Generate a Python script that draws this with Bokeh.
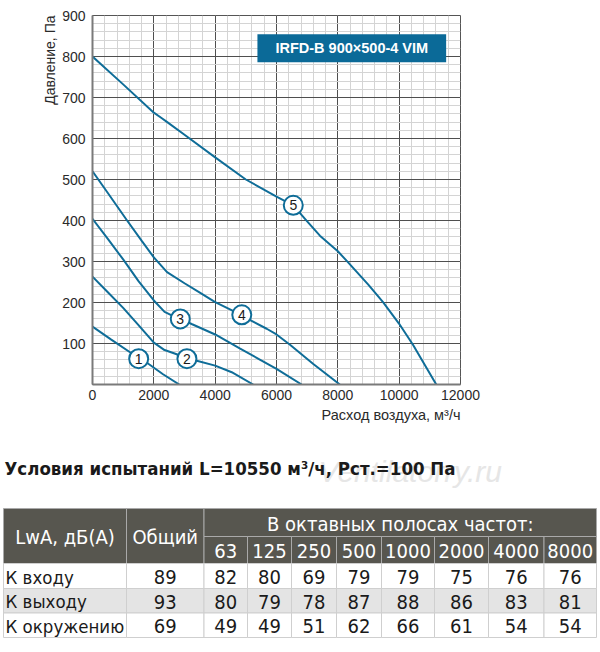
from bokeh.plotting import figure
from bokeh.models import Range1d, FixedTicker, Label, Title, ColumnDataSource
from bokeh.embed import file_html
from bokeh.resources import INLINE
from bokeh.core.properties import value

# ---------------- data ----------------
x_ticks = [0, 2000, 4000, 6000, 8000, 10000, 12000]
y_ticks = [100, 200, 300, 400, 500, 600, 700, 800, 900]

curve1_x = [0, 600, 1236, 1500, 1832, 2300, 2829]
curve1_y = [141, 110, 78, 65, 50, 25, 0]

curve2_x = [0, 500, 1000, 1500, 2000, 2350, 2700, 3078, 3400, 4000, 4540, 5240]
curve2_y = [263, 225, 187, 145, 102, 84, 75, 64, 58, 46, 30, 0]

curve3_x = [0, 500, 1000, 1500, 2000, 2350, 2600, 2862, 3250, 4000, 4800, 5500, 6000, 6820]
curve3_y = [404, 355, 305, 252, 205, 177, 168, 160, 147, 122, 88, 59, 38, 0]

curve4_x = [0, 500, 1128, 1600, 2000, 2430, 3000, 3500, 4000, 4850, 5140, 5680, 6000, 6440, 7200, 8065]
curve4_y = [520, 467, 400, 351, 310, 274, 247, 224, 201, 170, 157, 136, 122, 97, 50, 0]

curve5_x = [0, 1000, 2000, 2250, 2437, 3000, 4000, 5000, 6000, 6547, 7000, 7415, 8000, 8283, 9000, 9474, 10000, 10450, 11210]
curve5_y = [800, 732, 663, 650, 640, 609, 554, 500, 458, 437, 398, 363, 325, 302, 243, 201, 148, 97, 0]

label_x = [1506, 3079, 2862, 4868, 6547]
label_y = [63, 63, 160, 170, 437]
label_text = ["1", "2", "3", "4", "5"]

model_name = "IRFD-B 900×500-4 VIM"
x_title = "Расход воздуха, м³/ч"
y_title = "Давление, Па"

test_title = "Условия испытаний L=10550 м³/ч, Рст.=100 Па"
watermark = "Ventilatorry.ru"
head_col1 = "LwA, дБ(А)"
head_col2 = "Общий"
head_bands = "В октавных полосах частот:"
freqs = ["63", "125", "250", "500", "1000", "2000", "4000", "8000"]
row_names = ["К входу", "К выходу", "К окружению"]
row_total = [89, 93, 69]
row_inlet = [82, 80, 69, 79, 79, 75, 76, 76]
row_outlet = [80, 79, 78, 87, 88, 86, 83, 81]
row_surround = [49, 49, 51, 62, 66, 61, 54, 54]

# ---------------- styles ----------------
BLUE = "#0f6d98"
FONT = "Liberation Sans"
NARROW = "'DejaVu Sans Condensed', Roboto"

# ---------------- chart ----------------
p = figure(width=600, height=440, x_range=Range1d(0, 12000), y_range=Range1d(0, 900),
           output_backend="svg", toolbar_location=None,
           min_border_left=92, min_border_right=140, min_border_top=15, min_border_bottom=56)

p.xaxis.ticker = FixedTicker(ticks=x_ticks, minor_ticks=list(range(0, 12001, 400)))
p.yaxis.ticker = FixedTicker(ticks=y_ticks, minor_ticks=list(range(0, 901, 20)))
for g in (p.xgrid, p.ygrid):
    g.grid_line_color = "#4f4f4f"
    g.grid_line_width = 1
    g.minor_grid_line_color = "#d4d4d4"
    g.minor_grid_line_width = 1

p.axis.major_tick_line_color = None
p.axis.minor_tick_line_color = None
p.axis.major_tick_out = 0
p.axis.major_tick_in = 0
p.axis.minor_tick_out = 0
p.axis.minor_tick_in = 0
p.axis.axis_line_color = "#7a7a7a"
p.axis.axis_line_width = 2
p.axis.major_label_text_font = FONT
p.axis.major_label_text_font_size = "14px"
p.axis.major_label_text_color = "#2a2a2a"
p.xaxis.major_label_standoff = 5
p.yaxis.major_label_standoff = 7
p.outline_line_color = "#555555"
p.outline_line_width = 1

p.add_layout(Title(text=x_title, align="right", text_font=FONT, text_font_size="14.5px",
                   text_font_style="normal", text_color="#2a2a2a", standoff=5), "below")
p.add_layout(Title(text=y_title, align="right", text_font=FONT, text_font_size="14px",
                   text_font_style="normal", text_color="#2a2a2a", standoff=4), "left")

for cx, cy in ((curve1_x, curve1_y), (curve2_x, curve2_y), (curve3_x, curve3_y),
               (curve4_x, curve4_y), (curve5_x, curve5_y)):
    p.line(cx, cy, line_color=BLUE, line_width=2)

lab_src = ColumnDataSource(dict(x=label_x, y=label_y, t=label_text))
p.scatter("x", "y", source=lab_src, marker="circle", size=19, fill_color="white",
          line_color=BLUE, line_width=2)
p.text("x", "y", text="t", source=lab_src, text_align="center", text_baseline="middle",
       text_font=value(FONT), text_font_size="14px", text_color="#1a1a1a")

p.add_layout(Label(x=8455, y=820, text=model_name, text_align="center", text_baseline="middle",
                   text_color="white", text_font=FONT, text_font_style="bold", text_font_size="14.5px",
                   background_fill_color="#0b6a98", padding=(18, 6)))

# ---------------- table ----------------
W, H = 600, 210
t = figure(width=W, height=H, x_range=Range1d(0, W), y_range=Range1d(H, 0),
           output_backend="svg", toolbar_location=None, min_border=0,
           min_border_left=0, min_border_right=0, min_border_top=0, min_border_bottom=0,
           x_axis_type=None, y_axis_type=None)
t.grid.visible = False
t.outline_line_color = None

ex = [3, 126, 203.5, 247, 291, 336, 381, 434, 488, 543.5, 596]
ey = [68, 96, 123, 148, 172.5, 197]

HEAD = "#57564f"
# watermark and title
t.text([318], [31], text=[watermark], text_font=value(FONT), text_font_size="30px",
       text_font_style="italic", text_color="#e6e6e6", text_baseline="middle")
t.text([4], [28], text=[test_title], text_font=value(NARROW), text_font_size="18.5px",
       text_font_style="bold", text_color="#1a1a1a", text_baseline="middle")

# header cells
hl = [ex[0], ex[1], ex[2]] + ex[2:10]
hr = [ex[1], ex[2], ex[10]] + ex[3:11]
ht = [ey[0], ey[0], ey[0]] + [ey[1]] * 8
hb = [ey[2], ey[2], ey[1]] + [ey[2]] * 8
t.quad(left=hl, right=hr, top=ht, bottom=hb, fill_color=HEAD, line_color="#a9a9a9", line_width=1)

head_texts = [head_col1, head_col2, head_bands] + freqs
hx = [(a + b) / 2 for a, b in zip(hl, hr)]
hy = [(a + b) / 2 + 1 for a, b in zip(ht, hb)]
t.text(hx, hy, text=head_texts, text_align="center", text_baseline="middle",
       text_font=value(NARROW), text_font_size="20px", text_color="white")

# body cells
rows_vals = [row_inlet, row_outlet, row_surround]
bl, br, bt, bb, bf = [], [], [], [], []
tx, ty, tt, ta, ts = [], [], [], [], []
for r in range(3):
    fill = "#e4e4e4" if r == 1 else "white"
    vals = [row_names[r], str(row_total[r])] + [str(v) for v in rows_vals[r]]
    for c in range(10):
        bl.append(ex[c]); br.append(ex[c + 1]); bt.append(ey[2 + r]); bb.append(ey[3 + r]); bf.append(fill)
        tt.append(vals[c])
        ty.append((ey[2 + r] + ey[3 + r]) / 2 + 1)
        if c == 0:
            tx.append(ex[0] + 2); ta.append("left"); ts.append("18.5px")
        else:
            tx.append((ex[c] + ex[c + 1]) / 2); ta.append("center"); ts.append("20px")
t.quad(left=bl, right=br, top=bt, bottom=bb, fill_color=bf, line_color="#cfcfcf", line_width=1)
bsrc = ColumnDataSource(dict(x=tx, y=ty, t=tt, a=ta, s=ts))
t.text("x", "y", text="t", source=bsrc, text_align="a", text_baseline="middle",
       text_font=value(NARROW), text_font_size="s", text_color="#1a1a1a")

open("out.html", "w").write(file_html([p, t], INLINE))
